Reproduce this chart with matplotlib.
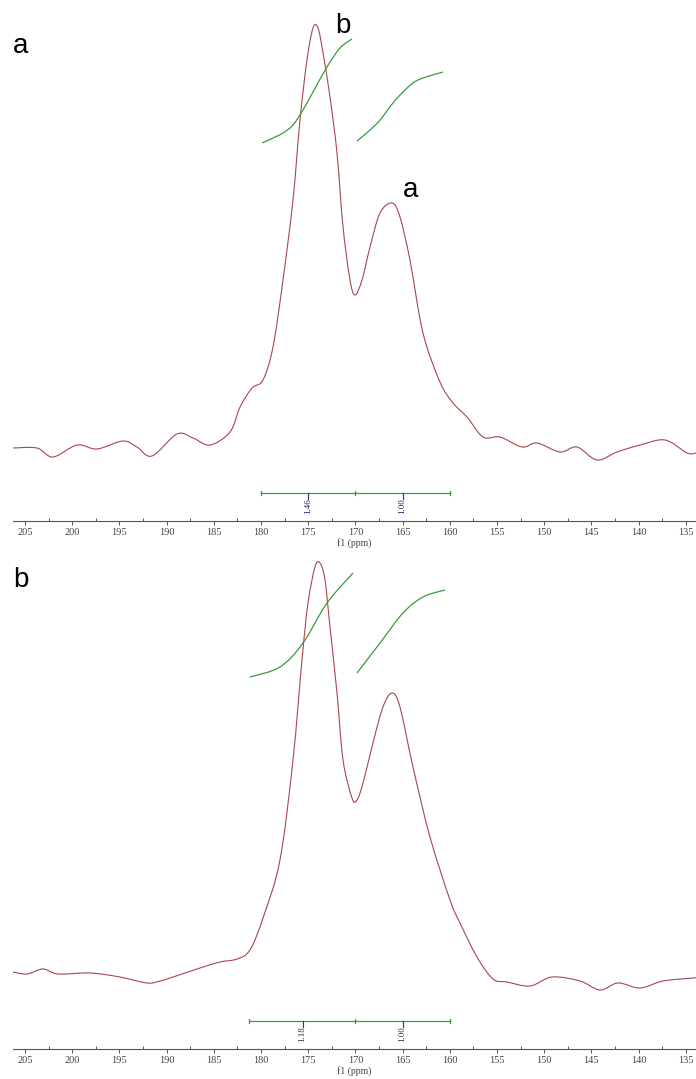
import matplotlib
matplotlib.use("Agg")
import matplotlib.pyplot as plt
from matplotlib.ticker import MultipleLocator
from matplotlib.path import Path
from matplotlib.patches import PathPatch

# ---------------- data (ppm, relative intensity) ----------------
ppm_a = [206.27, 203.73, 202.03, 199.49, 197.37, 194.62, 193.14, 191.55, 188.90, 187.20,
         185.40, 183.28, 182.22, 180.95, 179.79, 178.73, 177.67, 176.61, 175.87, 175.13,
         174.49, 173.96, 173.43, 172.69, 171.95, 171.31, 170.57, 170.04, 169.30, 168.45,
         167.39, 166.12, 165.28, 164.22, 162.84, 161.04, 159.66, 158.18, 156.48, 154.68,
         152.35, 150.76, 148.33, 146.53, 144.41, 142.29, 139.85, 137.20, 134.87, 133.92]
int_a = [0.47, 0.47, -1.66, 1.18, 0.24, 2.13, 0.71, -1.42, 3.79, 2.84,
         1.18, 4.27, 10.19, 14.69, 16.59, 24.41, 40.28, 59.24, 78.20, 92.42,
         100.0, 100.0, 94.08, 83.65, 70.38, 52.84, 40.28, 36.73, 40.28, 48.10,
         56.16, 58.53, 55.21, 45.02, 27.73, 16.11, 11.14, 7.82, 3.08, 3.08,
         0.71, 1.66, -0.47, 0.71, -2.37, -0.47, 1.18, 2.37, -0.71, -0.71]

ppm_b = [206.27, 204.79, 203.09, 201.50, 198.11, 194.94, 192.08, 190.70, 189.32, 186.46,
         184.34, 182.54, 181.17, 179.79, 177.99, 176.61, 175.66, 175.02, 174.28, 173.75,
         173.22, 172.69, 171.95, 171.31, 170.36, 169.83, 169.19, 168.14, 167.08, 166.12,
         165.28, 163.90, 162.10, 159.98, 158.92, 157.12, 155.42, 153.94, 151.50, 149.17,
         146.21, 144.09, 142.18, 139.85, 137.42, 134.24, 133.92]
int_b = [0.73, 0.24, 1.46, 0.24, 0.49, -0.49, -1.94, -1.46, -0.49, 1.70,
         3.16, 3.88, 6.07, 13.83, 27.91, 52.18, 76.46, 90.29, 99.03, 100.0,
         95.87, 84.47, 68.45, 52.18, 42.96, 42.48, 46.60, 56.31, 65.05, 68.45,
         65.05, 50.49, 33.50, 18.20, 12.62, 4.37, -0.97, -1.70, -2.67, -0.49,
         -1.46, -3.64, -1.94, -3.16, -1.46, -0.73, -0.73]

# integral curves
int1_ppm_a = [179.89, 178.73, 177.67, 176.61, 175.55, 174.49, 173.01, 171.63, 170.36]
int1_val_a = [72.75, 73.93, 75.12, 77.01, 80.57, 84.83, 90.76, 95.26, 97.39]
int2_ppm_a = [169.83, 168.45, 167.39, 166.02, 164.96, 163.90, 162.84, 160.72]
int2_val_a = [73.22, 75.83, 78.20, 82.23, 84.83, 86.97, 88.15, 89.57]

int1_ppm_b = [181.17, 177.99, 175.55, 173.01, 170.25]
int1_val_b = [72.33, 74.76, 80.58, 90.29, 97.57]
int2_ppm_b = [169.83, 167.39, 164.96, 162.84, 160.51]
int2_val_b = [73.30, 80.58, 87.86, 91.75, 93.45]

# integration regions and values
regions_a = [(180.0, 170.0), (170.0, 160.0)]
labels_a = ["1.46", "1.00"]
labelpos_a = [175.0, 165.0]
regions_b = [(181.3, 170.0), (170.0, 160.0)]
labels_b = ["1.18", "1.00"]
labelpos_b = [175.6, 165.0]

ticks = [205, 200, 195, 190, 185, 180, 175, 170, 165, 160, 155, 150, 145, 140, 135]

# ---------------- layout ----------------
W, H = 696, 1079
fig = plt.figure(figsize=(W / 100, H / 100), dpi=100)
XLIM = (206.27, 133.92)

def ax_at(top_px, bottom_px):
    return fig.add_axes([13 / W, (H - bottom_px) / H, (W - 13) / W, (bottom_px - top_px) / H])

spec_col = "#a8464b"
green = "#3c9a3c"


def smooth_line(ax, xs, ys, **kw):
    """Draw a smooth curve through the points (Catmull-Rom as cubic Bezier path)."""
    pts = list(zip(xs, ys))
    n = len(pts)
    verts = [pts[0]]
    codes = [Path.MOVETO]
    for i in range(n - 1):
        p0 = pts[i - 1] if i > 0 else pts[i]
        p1 = pts[i]
        p2 = pts[i + 1]
        p3 = pts[i + 2] if i + 2 < n else pts[i + 1]
        c1 = (p1[0] + (p2[0] - p0[0]) / 6, p1[1] + (p2[1] - p0[1]) / 6)
        c2 = (p2[0] - (p3[0] - p1[0]) / 6, p2[1] - (p3[1] - p1[1]) / 6)
        verts += [c1, c2, p2]
        codes += [Path.CURVE4] * 3
    ax.add_patch(PathPatch(Path(verts, codes), facecolor="none", **kw))


def draw(ax, ppm, inten, i1p, i1v, i2p, i2v, regions, labels, lpos, ylim, bar_y, px_per_unit, lab_col):
    smooth_line(ax, ppm, inten, edgecolor=spec_col, lw=0.8)
    smooth_line(ax, i1p, i1v, edgecolor=green, lw=0.9)
    smooth_line(ax, i2p, i2v, edgecolor=green, lw=0.9)
    ax.set_xlim(*XLIM)
    ax.set_ylim(*ylim)
    # integration bar
    lo = regions[0][0]
    hi = regions[-1][1]
    ax.plot([lo, hi], [bar_y, bar_y], color=green, lw=0.9)
    cap = 2 / px_per_unit
    for p in [lo, regions[0][1], hi]:
        ax.plot([p, p], [bar_y - cap, bar_y + cap], color=green, lw=0.9)
    for p, t in zip(lpos, labels):
        ax.plot([p, p], [bar_y, bar_y - 6 / px_per_unit], color="#333366", lw=0.8)
        ax.text(p, bar_y - 5.5 / px_per_unit, t, rotation=90, ha="center", va="top",
                fontsize=6.5, family="Liberation Serif", color=lab_col)
    for s in ["left", "right", "top"]:
        ax.spines[s].set_visible(False)
    ax.spines["bottom"].set_color("#555555")
    ax.spines["bottom"].set_linewidth(0.8)
    ax.set_yticks([])
    ax.set_xticks(ticks)
    ax.set_xticklabels([str(t) for t in ticks])
    ax.xaxis.set_minor_locator(MultipleLocator(2.5))
    ax.tick_params(axis="x", which="major", direction="out", length=3, width=0.7,
                   colors="#555555", labelsize=7.5, pad=2)
    ax.tick_params(axis="x", which="minor", direction="in", length=2, width=0.7, colors="#555555")
    for lab in ax.get_xticklabels():
        lab.set_family("Liberation Serif")
        lab.set_color("#444444")
    ax.set_xlabel("f1 (ppm)", fontsize=7, family="Liberation Serif", color="#444444", labelpad=1)

# top panel: px y=0..521, baseline 450, peak 28
sa = 4.22
ax1 = ax_at(0, 521)
draw(ax1, ppm_a, int_a, int1_ppm_a, int1_val_a, int2_ppm_a, int2_val_a,
     regions_a, labels_a, labelpos_a, ((450 - 521) / sa, 450 / sa), (450 - 493) / sa, sa, "#1a1a6e")

# bottom panel: px y=550..1049, baseline 975, peak 563
sb = 4.12
ax2 = ax_at(550, 1049)
draw(ax2, ppm_b, int_b, int1_ppm_b, int1_val_b, int2_ppm_b, int2_val_b,
     regions_b, labels_b, labelpos_b, ((975 - 1049) / sb, (975 - 550) / sb), (975 - 1021) / sb, sb, "#333333")

# letters
def ftext(x, y, s):
    fig.text(x / W, 1 - y / H, s, fontsize=20, family="Liberation Sans", ha="center", va="baseline")

ftext(21, 53, "a")
ftext(21, 587, "b")
ax1.text(171.3, (450 - 33) / sa, "b", fontsize=20, family="Liberation Sans", ha="center", va="baseline")
ax1.text(164.2, (450 - 197) / sa, "a", fontsize=20, family="Liberation Sans", ha="center", va="baseline")

fig.savefig("out.png", dpi=100, facecolor="white")
